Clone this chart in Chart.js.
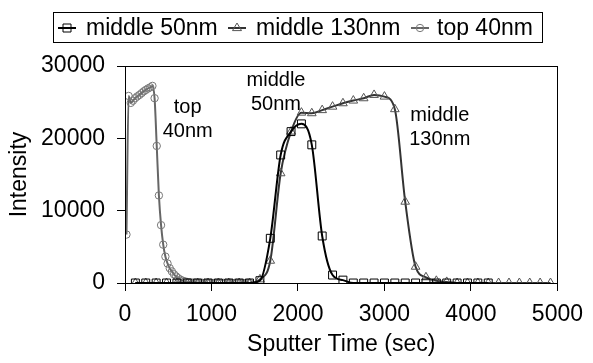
<!DOCTYPE html>
<html>
<head>
<meta charset="utf-8">
<script src="https://cdn.jsdelivr.net/npm/chart.js@4.4.0/dist/chart.umd.min.js"></script>
<style>
  html, body { margin: 0; padding: 0; background: #fff; }
</style>
</head>
<body>
<canvas id="myChart" width="593" height="363"></canvas>
<script>
// sputter time (sec) and intensity
const mid50X = [120, 240, 360, 480, 600, 720, 840, 960, 1080, 1200, 1320, 1440,
  1560, 1680, 1800, 1920, 2040, 2160, 2280, 2400, 2520,
  2640, 2760, 2880, 3000, 3120, 3240, 3360, 3480, 3600, 3720, 3840, 3960, 4080, 4200];
const mid50Y = [0, 0, 0, 0, 0, 0, 0, 0, 0, 0, 0, 0,
  320, 6180, 17700, 20930, 22000, 19100, 6500, 1100, 400,
  0, 0, 0, 0, 0, 0, 0, 0, 0, 0, 0, 0, 0, 0];

const mid130X = [120, 240, 360, 480, 600, 720, 840, 960, 1080, 1200, 1320, 1440,
  1560, 1680, 1800, 1920, 2040, 2160, 2280, 2400, 2520, 2640, 2760, 2880, 3000,
  3120, 3240, 3360, 3480, 3600, 3720,
  3840, 3960, 4080, 4200, 4320, 4440, 4560, 4680, 4800, 4920];
const mid130Y = [0, 0, 0, 0, 0, 0, 0, 0, 0, 0, 0, 0,
  500, 3080, 15170, 20930, 23550, 23470, 23900, 24380, 24850, 25220, 25540, 26000, 25770,
  24030, 11240, 2250, 790, 300, 150,
  0, 0, 0, 0, 0, 0, 0, 0, 0, 0];

const top40X = [17, 42, 67, 92, 117, 142, 167, 192, 217, 242, 267, 292, 317, 342, 367, 392,
  417, 442, 467, 492, 517, 542, 567, 592, 617, 642, 667, 692, 717, 742, 767, 792,
  817, 842, 867, 892, 917, 942, 967, 992, 1017, 1042, 1067, 1092, 1117, 1142, 1167,
  1192, 1217, 1242, 1267, 1292, 1317, 1342, 1367, 1392, 1417, 1442];
const top40Y = [6700, 25860, 24900, 25200, 25550, 25800, 26000, 26250, 26500, 26700, 26900, 27050, 27250, 25550, 18950, 12100,
  8000, 5300, 3650, 2700, 2050, 1600, 1200, 900, 650, 450, 320, 220, 150, 100, 70, 50,
  40, 35, 30, 25, 20, 20, 15, 15, 10, 10, 10, 10, 10, 10, 10,
  10, 5, 5, 5, 5, 5, 5, 5, 5, 5, 5];

const seriesNames = ['middle 50nm', 'middle 130nm', 'top 40nm'];
const xTicks = [0, 1000, 2000, 3000, 4000, 5000];
const yTicks = [0, 10000, 20000, 30000];

const FONT = 'Arial, "Liberation Sans", sans-serif';

function pts(xs, ys) {
  return xs.map((x, i) => ({ x: x, y: ys[i] }));
}

// draws a hollow marker, used by the legend
function marker(ctx, style, x, y) {
  ctx.beginPath();
  if (style === 'rect') {
    ctx.rect(x - 4, y - 4, 8, 8);
  } else if (style === 'triangle') {
    ctx.moveTo(x, y - 5);
    ctx.lineTo(x + 4.5, y + 2.6);
    ctx.lineTo(x - 4.5, y + 2.6);
    ctx.closePath();
  } else {
    ctx.arc(x, y, 3.7, 0, Math.PI * 2);
  }
  ctx.stroke();
}

const boxAndLabels = {
  id: 'boxAndLabels',
  afterDatasetsDraw(chart) {
    const ctx = chart.ctx;
    const a = chart.chartArea;
    const xs = chart.scales.x, ys = chart.scales.y;
    ctx.save();
    // plot frame
    ctx.strokeStyle = '#000';
    ctx.lineWidth = 1;
    ctx.strokeRect(Math.round(a.left) + 0.5, Math.round(a.top) + 0.5,
      Math.round(a.right - a.left), Math.round(a.bottom - a.top));

    // text labels in the plot
    ctx.fillStyle = '#000';
    ctx.font = '20px ' + FONT;
    ctx.textAlign = 'center';
    ctx.textBaseline = 'alphabetic';
    const notes = [
      ['top', 725, 23500], ['40nm', 725, 20190],
      ['middle', 1746, 27240], ['50nm', 1746, 23920],
      ['middle', 3640, 22400], ['130nm', 3640, 19080]
    ];
    notes.forEach(n => ctx.fillText(n[0], xs.getPixelForValue(n[1]), ys.getPixelForValue(n[2])));
    ctx.restore();
  },
  afterDraw(chart) {
    const ctx = chart.ctx;
    ctx.save();
    ctx.strokeStyle = '#000';
    ctx.lineWidth = 1;
    ctx.strokeRect(53.5, 12.5, 489, 30);
    ctx.font = '23px ' + FONT;
    ctx.textAlign = 'left';
    ctx.textBaseline = 'middle';
    const items = [
      { x: 58, tx: 86, line: '#000', mk: '#000', style: 'rect' },
      { x: 228, tx: 256, line: '#333', mk: '#555', style: 'triangle' },
      { x: 411, tx: 437, line: '#666', mk: '#777', style: 'circle' }
    ];
    const cy = 28;
    items.forEach((it, i) => {
      ctx.strokeStyle = it.line;
      ctx.lineWidth = 2;
      ctx.beginPath();
      ctx.moveTo(it.x, cy);
      ctx.lineTo(it.x + 18, cy);
      ctx.stroke();
      ctx.strokeStyle = it.mk;
      ctx.lineWidth = 1;
      marker(ctx, it.style, it.x + 9, cy);
      ctx.fillStyle = '#000';
      ctx.fillText(seriesNames[i], it.tx, cy + 1);
    });
    ctx.restore();
  }
};

const tickFont = { family: FONT, size: 23 };

new Chart(document.getElementById('myChart'), {
  type: 'line',
  data: {
    datasets: [{
      label: seriesNames[0],
      data: pts(mid50X, mid50Y),
      borderColor: '#000',
      borderWidth: 2,
      pointStyle: 'rect',
      pointRadius: 5.6,
      pointBorderWidth: 1,
      pointBorderColor: '#000',
      pointBackgroundColor: 'rgba(0,0,0,0)',
      cubicInterpolationMode: 'monotone'
    }, {
      label: seriesNames[1],
      data: pts(mid130X, mid130Y),
      borderColor: '#333',
      borderWidth: 2,
      pointStyle: 'triangle',
      pointRadius: 5,
      pointBorderWidth: 1,
      pointBorderColor: '#555',
      pointBackgroundColor: 'rgba(0,0,0,0)',
      cubicInterpolationMode: 'monotone'
    }, {
      label: seriesNames[2],
      data: pts(top40X, top40Y),
      borderColor: '#666',
      borderWidth: 2,
      pointStyle: 'circle',
      pointRadius: 3.7,
      pointBorderWidth: 1,
      pointBorderColor: '#777',
      pointBackgroundColor: 'rgba(0,0,0,0)',
      cubicInterpolationMode: 'monotone'
    }]
  },
  options: {
    responsive: false,
    animation: false,
    devicePixelRatio: 1,
    layout: { padding: { top: 66, right: 27, left: 0, bottom: 0 } },
    plugins: {
      legend: { display: false },
      tooltip: { enabled: false }
    },
    scales: {
      x: {
        type: 'linear',
        min: 0,
        max: 5000,
        afterBuildTicks: s => { s.ticks = xTicks.map(v => ({ value: v })); },
        afterFit: s => { s.height = 80; },
        ticks: { font: tickFont, color: '#000', padding: 10, maxRotation: 0, callback: v => String(v) },
        grid: { drawOnChartArea: false, tickLength: 8, color: '#000' },
        border: { color: '#000', width: 1 },
        title: { display: true, text: 'Sputter Time (sec)', font: tickFont, color: '#000', padding: { top: 0, bottom: 5 } }
      },
      y: {
        min: 0,
        max: 30000,
        afterBuildTicks: s => { s.ticks = yTicks.map(v => ({ value: v })); },
        afterFit: s => { s.width = 125; },
        ticks: { font: tickFont, color: '#000', padding: 12, callback: v => String(v) },
        grid: { drawOnChartArea: false, tickLength: 8, color: '#000' },
        border: { color: '#000', width: 1 },
        title: { display: true, text: 'Intensity', font: tickFont, color: '#000', padding: { top: 6, bottom: 0 } }
      }
    }
  },
  plugins: [boxAndLabels]
});
</script>
</body>
</html>
